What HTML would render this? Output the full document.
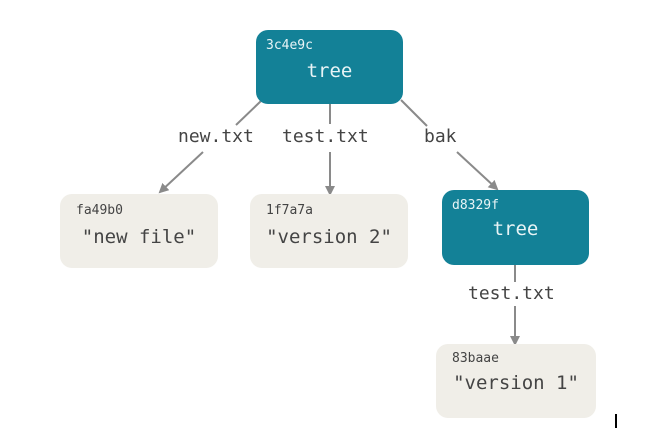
<!DOCTYPE html>
<html><head><style>
body{margin:0;width:655px;height:430px;background:#fff;overflow:hidden;position:relative;font-family:"DejaVu Sans Mono","Liberation Mono",monospace}
.b{position:absolute;border-radius:12px}
.t{background:#138197;color:#e8f4f6}
.g{background:#f0eee8;color:#444}
.s{position:absolute;font-size:13px}
.m{position:absolute;font-size:19px;left:0;right:0;text-align:center}
.l{position:absolute;font-size:18px;color:#444}
</style></head><body>
<svg width="655" height="430" style="position:absolute;left:0;top:0">
<defs><marker id="a" markerWidth="10" markerHeight="10" refX="8" refY="5" orient="auto" markerUnits="userSpaceOnUse"><path d="M0,0L10,5L0,10z" fill="#8a8a8a"/></marker></defs>
<g stroke="#8a8a8a" stroke-width="2" fill="none">
<line x1="262" y1="100" x2="236" y2="125"/>
<line x1="203" y1="152" x2="160" y2="192" marker-end="url(#a)"/>
<line x1="330" y1="104" x2="330" y2="124"/>
<line x1="330" y1="152" x2="330" y2="194" marker-end="url(#a)"/>
<line x1="401" y1="100" x2="427" y2="126"/>
<line x1="457" y1="152" x2="497" y2="189" marker-end="url(#a)"/>
<line x1="515" y1="265" x2="515" y2="282"/>
<line x1="515" y1="306" x2="515" y2="344" marker-end="url(#a)"/>
</g>
<rect x="615" y="414" width="2" height="14" fill="#000"/>
</svg>
<div class="b t" style="left:256px;top:30px;width:147px;height:74px"><span class="s" style="left:10px;top:8px">3c4e9c</span><span class="m" style="top:30px">tree</span></div>
<div class="b g" style="left:60px;top:194px;width:158px;height:74px"><span class="s" style="left:16px;top:9px">fa49b0</span><span class="m" style="top:32px">"new file"</span></div>
<div class="b g" style="left:250px;top:194px;width:158px;height:74px"><span class="s" style="left:16px;top:9px">1f7a7a</span><span class="m" style="top:32px">"version 2"</span></div>
<div class="b t" style="left:442px;top:190px;width:147px;height:75px"><span class="s" style="left:10px;top:8px">d8329f</span><span class="m" style="top:28px">tree</span></div>
<div class="b g" style="left:436px;top:344px;width:160px;height:74px"><span class="s" style="left:16px;top:7px">83baae</span><span class="m" style="top:28px">"version 1"</span></div>
<span class="l" style="left:178px;top:126px">new.txt</span>
<span class="l" style="left:282px;top:126px">test.txt</span>
<span class="l" style="left:424px;top:126px">bak</span>
<span class="l" style="left:468px;top:283px">test.txt</span>
</body></html>
